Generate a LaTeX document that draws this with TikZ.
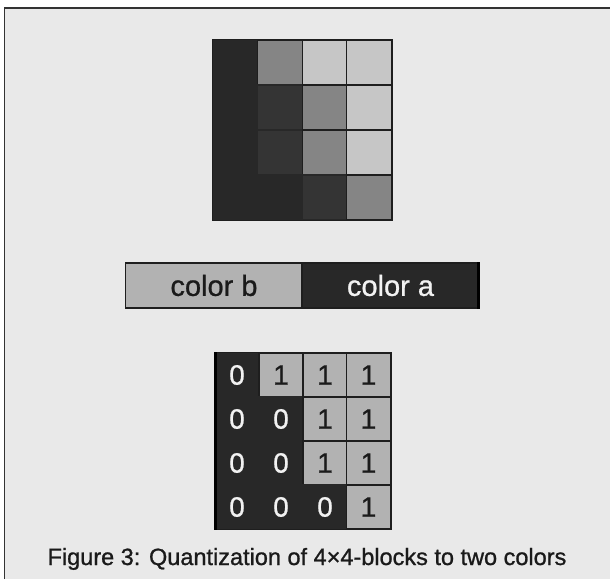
\documentclass[tikz,border=0pt]{standalone}
\usepackage{fontspec}
\setmainfont{Liberation Sans}
\newfontfamily\capfont{Liberation Sans}[FakeBold=1.0]
\newfontfamily\digfont{Liberation Sans}[FakeBold=0.8]
\definecolor{bgc}{HTML}{E9E9E9}
\definecolor{framec}{HTML}{333333}
\definecolor{gridc}{HTML}{1E1E1E}
\definecolor{cD}{HTML}{282828}
\definecolor{cDD}{HTML}{343434}
\definecolor{cM}{HTML}{858585}
\definecolor{cL}{HTML}{C6C6C6}
\definecolor{cB}{HTML}{B2B2B2}
\definecolor{txtlight}{HTML}{F2F2F2}
\definecolor{txtdark}{HTML}{1A1A1A}
\begin{document}
\begin{tikzpicture}[x=1pt,y=-1pt,
  tcell/.style={draw=gridc,line width=1.3pt,minimum width=44.5pt,minimum height=45pt,inner sep=0pt,anchor=center},
  tdark/.style={tcell,draw=cD},
  bcell/.style={draw=gridc,line width=1.3pt,minimum width=44pt,minimum height=44pt,inner sep=0pt,anchor=center,font=\digfont\fontsize{28}{28}\selectfont},
  zero/.style={bcell,fill=cD,draw=cD,text=txtlight},
  one/.style={bcell,fill=cB,text=txtdark},
  barbox/.style={draw=gridc,line width=1.3pt,minimum width=177pt,minimum height=45pt,inner sep=0pt,anchor=center,font=\digfont\fontsize{29}{29}\selectfont}]
\useasboundingbox (0,0) rectangle (610,579);
\fill[white] (0,0) rectangle (610,579);
\fill[bgc] (4.5,8) rectangle (610,579);
\draw[framec,line width=1.5pt] (4.5,579) -- (4.5,8) -- (610,8);
% top grid
\node[tdark,fill=cD] (t11) at (235.5,62.5) {};
\node[tcell,fill=cM] (t12) at (280,62.5) {};
\node[tcell,fill=cL] (t13) at (324.5,62.5) {};
\node[tcell,fill=cL] (t14) at (369,62.5) {};
\node[tdark,fill=cD] (t21) at (235.5,107.5) {};
\node[tdark,fill=cDD] (t22) at (280,107.5) {};
\node[tcell,fill=cM] (t23) at (324.5,107.5) {};
\node[tcell,fill=cL] (t24) at (369,107.5) {};
\node[tdark,fill=cD] (t31) at (235.5,152.5) {};
\node[tdark,fill=cDD] (t32) at (280,152.5) {};
\node[tcell,fill=cM] (t33) at (324.5,152.5) {};
\node[tcell,fill=cL] (t34) at (369,152.5) {};
\node[tdark,fill=cD] (t41) at (235.5,197.5) {};
\node[tdark,fill=cD] (t42) at (280,197.5) {};
\node[tdark,fill=cDD] (t43) at (324.5,197.5) {};
\node[tcell,fill=cM] (t44) at (369,197.5) {};
\draw[gridc,line width=1.5pt] (t11.north west) rectangle (t44.south east);
% color bar
\node[barbox,fill=cB,text=txtdark] (colb) at (214,285.5) {color b};
\node[barbox,fill=cD,text=txtlight] (cola) at (390.5,285.5) {color a};
\draw[black,line width=3pt] ([xshift=-1.5pt]cola.north east) -- ([xshift=-1.5pt]cola.south east);
% bottom grid
\node[zero] (b11) at (237,375) {0};
\node[one]  (b12) at (281,375) {1};
\node[one]  (b13) at (325,375) {1};
\node[one]  (b14) at (368.5,375) {1};
\node[zero] (b21) at (237,419) {0};
\node[zero] (b22) at (281,419) {0};
\node[one]  (b23) at (325,419) {1};
\node[one]  (b24) at (368.5,419) {1};
\node[zero] (b31) at (237,463) {0};
\node[zero] (b32) at (281,463) {0};
\node[one]  (b33) at (325,463) {1};
\node[one]  (b34) at (368.5,463) {1};
\node[zero] (b41) at (237,507) {0};
\node[zero] (b42) at (281,507) {0};
\node[zero] (b43) at (325,507) {0};
\node[one]  (b44) at (368.5,507) {1};
\draw[gridc,line width=1.3pt] (b11.north west) rectangle (b44.south east);
\draw[black,line width=3pt] ([xshift=1pt]b11.north west) -- ([xshift=1pt]b41.south west);
% caption
\node[font=\capfont\fontsize{23.5}{24}\selectfont,text=txtdark,anchor=base] (cap) at (307,565) {Figure 3: Quantization of 4×4-blocks to two colors};
\end{tikzpicture}
\end{document}
